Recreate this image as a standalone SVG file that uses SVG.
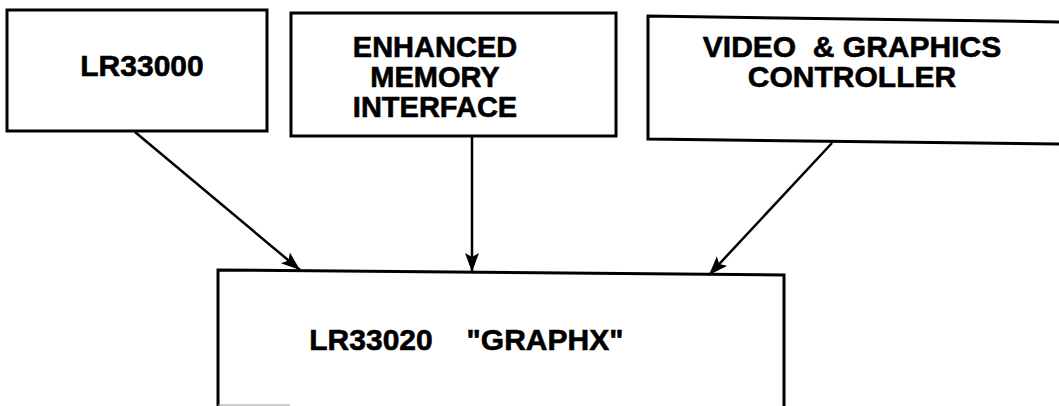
<svg xmlns="http://www.w3.org/2000/svg" width="1059" height="406" viewBox="0 0 1059 406">
  <style>
    .box { fill: none; stroke: #000; stroke-width: 3; stroke-linejoin: miter; }
    .lbl { font-family: "Liberation Sans", Arial, Helvetica, sans-serif; font-weight: bold; font-size: 30px; fill: #000; stroke: #000; stroke-width: 0.6; text-anchor: middle; white-space: pre; }
    .conn { fill: none; stroke: #000; stroke-width: 2.5; }
  </style>
  <defs>
    <marker id="arrow" markerUnits="userSpaceOnUse" markerWidth="22" markerHeight="16" refX="19" refY="7" orient="auto">
      <path d="M0,0 L19,7 L0,14 L4,7 Z" fill="#000"/>
    </marker>
  </defs>
  <rect width="1059" height="406" fill="#fff"/>

  <g id="node-lr33000">
    <rect class="box" x="7" y="10" width="260" height="121"/>
    <text class="lbl" x="142" y="76">LR33000</text>
  </g>

  <g id="node-memory">
    <rect class="box" x="291" y="13" width="325" height="123"/>
    <text class="lbl" x="435" y="57" style="font-size:29px">ENHANCED</text>
    <text class="lbl" x="435" y="87" style="font-size:29px">MEMORY</text>
    <text class="lbl" x="435" y="117" style="font-size:29px">INTERFACE</text>
  </g>

  <g id="node-video">
    <path class="box" d="M1062,22 L648,16 L648,139 L1062,144"/>
    <text class="lbl" x="852" y="57">VIDEO  &amp; GRAPHICS</text>
    <text class="lbl" x="852" y="87">CONTROLLER</text>
  </g>

  <g id="node-graphx">
    <path class="box" d="M218,410 L218,270 L784,275 L784,410"/>
    <line x1="218" y1="405" x2="290" y2="405" stroke="#999" stroke-width="1"/>
    <text class="lbl" x="371" y="350">LR33020</text>
    <text class="lbl" x="545" y="350">"GRAPHX"</text>
  </g>

  <g id="connectors">
    <line class="conn" x1="135" y1="132" x2="300" y2="270" marker-end="url(#arrow)"/>
    <line class="conn" x1="472" y1="137" x2="472" y2="272" marker-end="url(#arrow)"/>
    <line class="conn" x1="832" y1="143" x2="709" y2="275" marker-end="url(#arrow)"/>
  </g>
</svg>
